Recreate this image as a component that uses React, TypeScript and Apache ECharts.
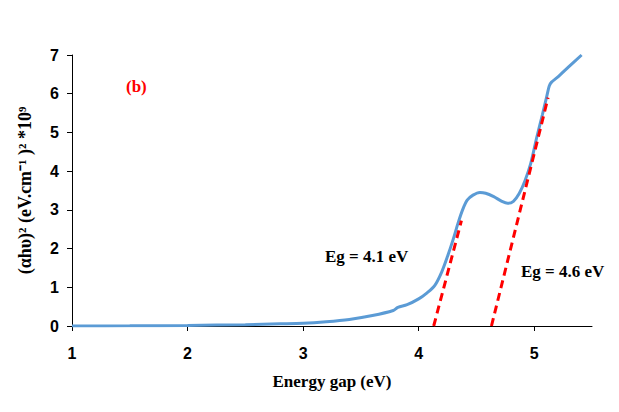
import React, { useEffect, useRef } from "react";
import * as echarts from "echarts";

const energy = [1.0, 1.5, 2.0, 2.5, 2.8, 3.0, 3.2, 3.4, 3.6, 3.78, 3.82, 3.9, 4.0, 4.07, 4.14, 4.2, 4.25, 4.3, 4.34, 4.38, 4.42, 4.47, 4.53, 4.58, 4.65, 4.72, 4.77, 4.82, 4.87, 4.92, 4.97, 5.02, 5.07, 5.11, 5.13, 5.15, 5.2, 5.3, 5.41];
const absorb = [0.0, 0.005, 0.015, 0.035, 0.055, 0.07, 0.11, 0.17, 0.27, 0.4, 0.48, 0.55, 0.7, 0.85, 1.05, 1.4, 1.8, 2.25, 2.65, 3.0, 3.25, 3.38, 3.45, 3.43, 3.34, 3.22, 3.17, 3.22, 3.42, 3.75, 4.2, 4.85, 5.45, 5.95, 6.2, 6.3, 6.42, 6.7, 7.0];

const fit1X = [4.13, 4.37];
const fit1Y = [0, 2.72];
const fit2X = [4.63, 5.12];
const fit2Y = [0, 5.9];

const xTicks = [1, 2, 3, 4, 5];
const yTicks = [0, 1, 2, 3, 4, 5, 6, 7];

const serif = "'Liberation Serif', 'Times New Roman', serif";
const sans = "'Liberation Sans', Arial, sans-serif";

export default function App() {
  const ref = useRef<HTMLDivElement>(null);
  useEffect(() => {
    if (!ref.current) return;
    const chart = echarts.init(ref.current, null, { renderer: "svg" });
    chart.setOption({
      animation: false,
      backgroundColor: "#ffffff",
      grid: { left: 62, right: 19, top: 47, bottom: 78 },
      xAxis: {
        type: "value",
        min: 1,
        max: 5.5,
        interval: 1,
        name: "Energy gap (eV)",
        nameLocation: "middle",
        nameGap: 47,
        nameTextStyle: { fontFamily: serif, fontWeight: "bold", fontSize: 17, color: "#000" },
        axisLine: { show: true, lineStyle: { color: "#000", width: 1 } },
        axisTick: { show: true, length: 5, lineStyle: { color: "#000" }, customValues: xTicks },
        axisLabel: { fontFamily: sans, fontWeight: "bold", fontSize: 16, color: "#000", margin: 19, customValues: xTicks },
        splitLine: { show: false },
      },
      yAxis: {
        type: "value",
        min: 0,
        max: 7,
        interval: 1,
        name: "(αhυ)² (eV.cm⁻¹ )² *10⁹",
        nameLocation: "middle",
        nameGap: 38,
        nameTextStyle: { fontFamily: serif, fontWeight: "bold", fontSize: 18, color: "#000" },
        axisLine: { show: true, lineStyle: { color: "#000", width: 1 } },
        axisTick: { show: true, length: 5, lineStyle: { color: "#000" }, customValues: yTicks },
        axisLabel: { fontFamily: sans, fontWeight: "bold", fontSize: 16, color: "#000", margin: 13, customValues: yTicks },
        splitLine: { show: false },
      },
      series: [
        {
          type: "line",
          data: energy.map((x, i) => [x, absorb[i]]),
          smooth: 0.3,
          symbol: "none",
          lineStyle: { color: "#5b9bd5", width: 3 },
          z: 2,
        },
        {
          type: "line",
          data: fit1X.map((x, i) => [x, fit1Y[i]]),
          symbol: "none",
          lineStyle: { color: "#ff0000", width: 3, type: [8, 5] },
          z: 3,
        },
        {
          type: "line",
          data: fit2X.map((x, i) => [x, fit2Y[i]]),
          symbol: "none",
          lineStyle: { color: "#ff0000", width: 3, type: [8, 5] },
          z: 3,
        },
      ],
      graphic: [
        {
          type: "text",
          left: 118,
          top: 70,
          style: { text: "(b)", fill: "#ff0000", font: `bold 17px ${serif}` },
        },
        {
          type: "text",
          left: 317,
          top: 240,
          style: { text: "Eg = 4.1 eV", fill: "#000", font: `bold 17px ${serif}` },
        },
        {
          type: "text",
          left: 513,
          top: 255,
          style: { text: "Eg = 4.6 eV", fill: "#000", font: `bold 17px ${serif}` },
        },
      ],
    });
    return () => chart.dispose();
  }, []);
  return <div ref={ref} style={{ width: 603, height: 396 }} />;
}
